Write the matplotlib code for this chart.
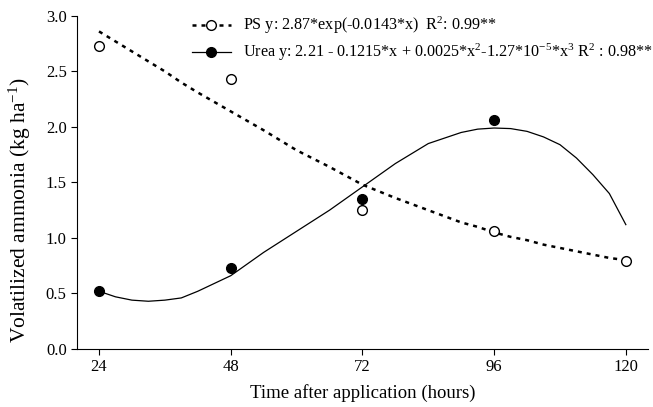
import numpy as np
import matplotlib
matplotlib.use("Agg")
import matplotlib.pyplot as plt

plt.rcParams["font.family"] = ["Liberation Serif", "DejaVu Serif"]
plt.rcParams["mathtext.fontset"] = "custom"
plt.rcParams["mathtext.rm"] = "Liberation Serif"
plt.rcParams["mathtext.it"] = "Liberation Serif:italic"

# observed values
hours = [24, 48, 72, 96, 120]
ps_obs = [2.73, 2.43, 1.25, 1.06, 0.79]
urea_hours = [24, 48, 72, 96]
urea_obs = [0.52, 0.73, 1.35, 2.06]

# fitted curves
fit_hours = [24, 27, 30, 33, 36, 39, 42, 48, 54, 60, 66, 72, 78, 84, 90, 93, 96, 99,
             102, 105, 108, 111, 114, 117, 120]
ps_fit = [2.86, 2.77, 2.68, 2.59, 2.50, 2.40, 2.31, 2.14, 1.97, 1.79, 1.64, 1.48, 1.36,
          1.25, 1.14, 1.10, 1.05, 1.01, 0.98, 0.94, 0.91, 0.88, 0.85, 0.82, 0.80]
urea_fit = [0.52, 0.47, 0.44, 0.43, 0.44, 0.46, 0.52, 0.66, 0.87, 1.06, 1.25, 1.46, 1.67,
            1.85, 1.95, 1.98, 1.99, 1.985, 1.96, 1.91, 1.84, 1.72, 1.57, 1.40, 1.12]

ps_label = "PS y: 2.87*exp(-0.0143*x)  R$^2$: 0.99**"
urea_label = "Urea y: 2.21 - 0.1215*x + 0.0025*x$^2$-1.27*10$^{-5}$*x$^3$ R$^2$ : 0.98**"

dots = (0, (1.6, 2.0))

fig = plt.figure(figsize=(6.53, 4.07), dpi=100)
ax = fig.add_axes([0.118, 0.1425, 0.874, 0.8185])

ax.plot(fit_hours, ps_fit, color="black", lw=1.8, linestyle=dots)
ax.plot(fit_hours, urea_fit, color="black", lw=0.9)
ax.plot(hours, ps_obs, "o", ms=7, mfc="white", mec="black", mew=1.0)
ax.plot(urea_hours, urea_obs, "o", ms=7, mfc="black", mec="black")

# legend handles
h1, = ax.plot([], [], color="black", lw=1.8, linestyle=dots,
              marker="o", ms=7, mfc="white", mec="black", mew=1.0)
h2, = ax.plot([], [], color="black", lw=0.9, marker="o", ms=7, mfc="black", mec="black")
ax.legend([h1, h2], [ps_label, urea_label], loc="upper left",
          bbox_to_anchor=(0.294, 0.963), bbox_transform=fig.transFigure,
          frameon=False, fontsize=11.6, borderpad=0, borderaxespad=0,
          handlelength=2.4, handletextpad=0.75, labelspacing=0.35)

ax.set_xlim(20, 124)
ax.set_ylim(0, 3.0)
ax.set_xticks(hours)
ax.set_yticks(np.arange(0, 3.01, 0.5))
ax.yaxis.set_major_formatter(matplotlib.ticker.FormatStrFormatter("%.1f"))
ax.tick_params(direction="out", length=4, width=0.8, labelsize=12)
for s in ["top", "right"]:
    ax.spines[s].set_visible(False)
for s in ["left", "bottom"]:
    ax.spines[s].set_linewidth(0.8)

ax.set_xlabel("Time after application (hours)", fontsize=13.5)
ax.set_ylabel("Volatilized ammonia (kg ha$^{-1}$)", fontsize=15.5)
ax.xaxis.set_label_coords(0.5, -0.105)
ax.yaxis.set_label_coords(-0.077, 0.417)

fig.savefig("out.png", dpi=100)
